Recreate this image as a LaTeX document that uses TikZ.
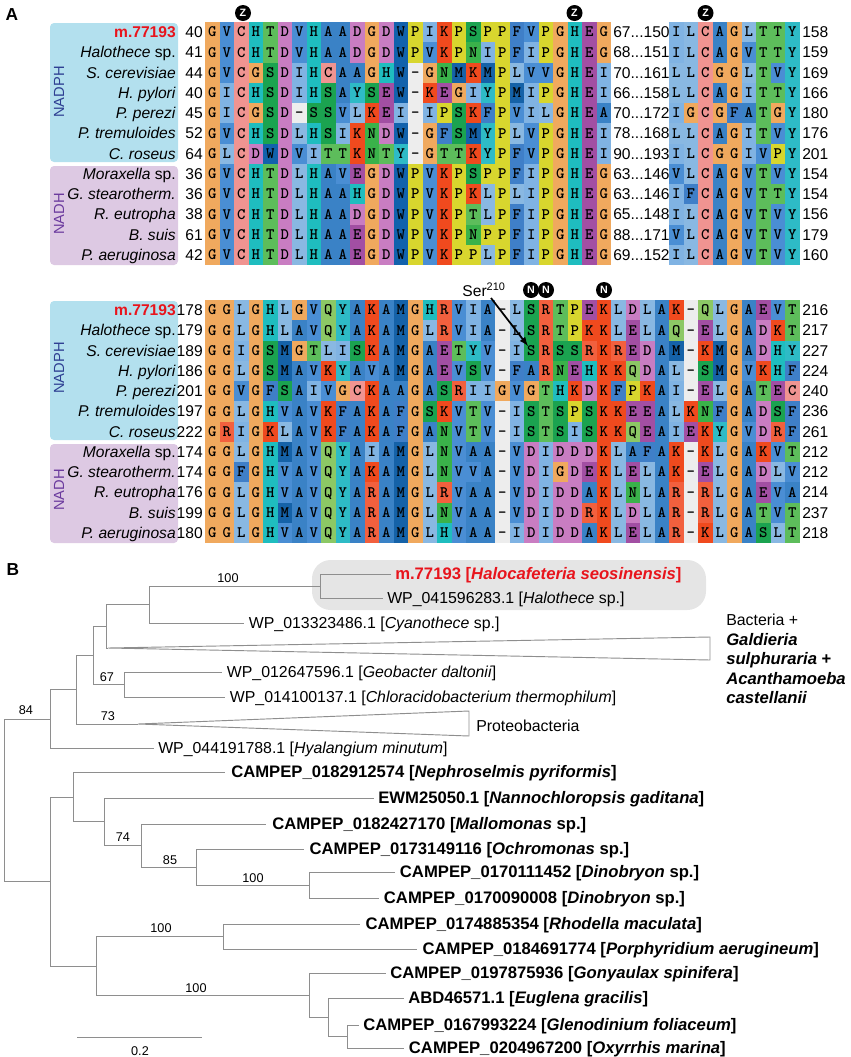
\documentclass[tikz,border=0pt]{standalone}
\usepackage{fontspec}
\setmainfont{Liberation Sans}
\newfontfamily\resfont{lmmonolt10-bold.otf}
\usetikzlibrary{positioning, arrows}

\definecolor{resG}{HTML}{F0A95E}
\definecolor{resC}{HTML}{F09491}
\definecolor{resA}{HTML}{3A82C6}
\definecolor{resV}{HTML}{4A8ED4}
\definecolor{resI}{HTML}{80B3E3}
\definecolor{resL}{HTML}{89B8E2}
\definecolor{resM}{HTML}{1562A8}
\definecolor{resF}{HTML}{3F7FC8}
\definecolor{resW}{HTML}{1262AC}
\definecolor{resH}{HTML}{1FBDBF}
\definecolor{resY}{HTML}{2EBBC6}
\definecolor{resT}{HTML}{5DBD5B}
\definecolor{resS}{HTML}{1BA350}
\definecolor{resN}{HTML}{3AB24A}
\definecolor{resQ}{HTML}{8CC865}
\definecolor{resD}{HTML}{C97DC2}
\definecolor{resE}{HTML}{A24FA3}
\definecolor{resK}{HTML}{F04A1E}
\definecolor{resR}{HTML}{F2603E}
\definecolor{resP}{HTML}{D8D62E}
\definecolor{resgap}{HTML}{EDEDED}
\definecolor{nadphbg}{HTML}{B3E0EE}
\definecolor{nadhbg}{HTML}{DDC9E3}
\definecolor{nadphtx}{HTML}{2E3F92}
\definecolor{nadhtx}{HTML}{6B3A9E}
\definecolor{mred}{HTML}{E8141C}
\definecolor{treegray}{HTML}{8E8E8E}
\definecolor{hlgray}{HTML}{E5E5E5}

% one row of coloured residues: left x, top y, letters
\newcount\rescol
\newcommand\resrow[3]{\def\resx{#1}\def\resy{#2}\global\rescol=0\relax\expandafter\resloop#3\relax}
\def\resloop#1{\ifx#1\relax\else\resbox{#1}\expandafter\resloop\fi}
\newcommand\resbox[1]{%
  \if#1-\def\rescolr{resgap}\else\def\rescolr{res#1}\fi
  \fill[fill=\rescolr] ({\resx+14.5*\the\rescol},{\resy}) rectangle ++(14.5,20.25);
  \node[reslet] at ({\resx+14.5*\the\rescol+7.25},{\resy+10.125}) {#1};
  \global\advance\rescol by 1\relax}
\newcommand\posdots{...}

\begin{document}
\begin{tikzpicture}[x=0.75pt, y=-0.75pt]
    \tikzstyle{reslet} = [inner sep=0pt, text height=7.2pt, text depth=0pt, font=\resfont\fontsize{12}{12}\selectfont]
    \tikzstyle{spname} = [anchor=east, inner sep=0pt, text height=8.4pt, text depth=0pt, font=\fontsize{11.7}{12}\selectfont]
    \tikzstyle{posnum} = [inner sep=0pt, text height=8.4pt, text depth=0pt, font=\fontsize{11.7}{12}\selectfont]
    \tikzstyle{grpbox} = [rounded corners=3pt]
    \tikzstyle{grplab} = [rotate=90, inner sep=0pt, font=\fontsize{11}{11}\selectfont]
    \tikzstyle{site} = [circle, fill=black, text=white, inner sep=0pt, minimum size=12pt, font=\fontsize{8}{8}\selectfont\bfseries]
    \tikzstyle{panel} = [inner sep=0pt, font=\fontsize{13}{13}\selectfont\bfseries]
    \tikzstyle{serarrow} = [->, >=latex, line width=1.3pt]
    \tikzstyle{branch} = [draw=treegray, line width=0.7pt]
    \tikzstyle{clade} = [draw=treegray, line width=0.7pt, fill=white]
    \tikzstyle{leaf} = [anchor=west, inner sep=0pt, text height=8.5pt, text depth=0pt, font=\fontsize{11.9}{12}\selectfont]
    \tikzstyle{bleaf} = [leaf, text height=8.9pt, font=\fontsize{12.5}{12}\selectfont\bfseries]
    \tikzstyle{boot} = [inner sep=0pt, font=\fontsize{9.5}{10}\selectfont]

    \useasboundingbox (0,0) rectangle (850,1057);

    \node[panel] (A) at (12,15) {A};
    \node[panel] (B) at (13,570) {B};

    % group boxes
    \fill[grpbox, fill=nadphbg] (50,23) rectangle (178,162);
    \fill[grpbox, fill=nadhbg] (50,166) rectangle (178,265);
    \fill[grpbox, fill=nadphbg] (50,301) rectangle (178,440);
    \fill[grpbox, fill=nadhbg] (50,444) rectangle (178,543);
    \node[grplab, text=nadphtx] (gA1) at (59,92) {NADPH};
    \node[grplab, text=nadhtx] (gA2) at (59,214) {NADH};
    \node[grplab, text=nadphtx] (gB1) at (59,368) {NADPH};
    \node[grplab, text=nadhtx] (gB2) at (59,490) {NADH};

    % upper alignment
    \foreach \s [count=\i from 0] in {GVCHTDVHAADGDWPIKPSPPFVPGHEG, GVCHTDVHAADGDWPVKPNIPFIPGHEG,
        GVCGSDIHCAAGHW-GNMKMPLVVGHEI, GICHSDIHSAYSEW-KEGIYPMIPGHEI, GICGSD-SSVLKEI-IPSKFPVILGHEA,
        GVCHSDLHSIKNDW-GFSMYPLVPGHEI, GLCDWDVITTKNTY-GTTKYPFVPGHEI, GVCHTDLHAVEGDWPVKPSPPFIPGHEG,
        GVCHTDLHAAHGDWPVKPKLPLIPGHEG, GVCHTDLHAADGDWPVKPTLPFIPGHEG, GVCHTDLHAAEGDWPVKPNPPFIPGHEG,
        GVCHTDLHAAEGDWPVKPPLPFIPGHEG}
        {\resrow{205}{22+20.25*\i}{\s}}
    \foreach \s [count=\i from 0] in {ILCAGLTTY, ILCAGVTTY, LLCGGLTVY, LLCAGITTY, IGCGFATGY, LLCAGITVY,
        ILCGGIVPY, VLCAGVTVY, IFCAGVTTY, ILCAGVTVY, VLCAGVTVY, ILCAGVTVY}
        {\resrow{669}{22+20.25*\i}{\s}}

    % lower alignment
    \foreach \s [count=\i from 0] in {GGLGHLGVQYAKAMGHRVIA-LSRTPEKLDLAK-QLGAEVT,
        GGLGHLAVQYAKAMGLRVIA-LSRTPKKLELAQ-ELGADKT, GGIGSMGTLISKAMGAETYV-ISRSSRKREDAM-KMGADHY,
        GGLGSMAVKYAVAMGAEVSV-FARNEHKKQDAL-SMGVKHF, GGVGFSAIVGCKAAGASRIIGVGTHKDKFPKAI-ELGATEC,
        GGLGHVAVKFAKAFGSKVTV-ISTSPSKKEEALKNFGADSF, GRIGKLAVKFAKAFGANVTV-ISTSISKKQEAIEKYGVDRF,
        GGLGHMAVQYAIAMGLNVAA-VDIDDDKLAFAK-KLGAKVT, GGFGHVAVQYAKAMGLNVVA-VDIGDEKLELAK-ELGADLV,
        GGLGHVAVQYARAMGLRVAA-VDIDDAKLNLAR-RLGAEVA, GGLGHMAVQYARAMGLNVAA-VDIDDRKLDLAR-RLGATVT,
        GGLGHVAVQYARAMGLHVAA-IDIDDAKLELAR-KLGASLT}
        {\resrow{205}{300+20.25*\i}{\s}}

    % names and positions
    \foreach \nm/\na/\nb/\nc/\nd/\ne [count=\i from 0] in {
        {\textcolor{mred}{\bfseries m.77193}}/40/67\posdots150/158/178/216,
        {\textit{Halothece} sp.}/41/68\posdots151/159/179/217,
        {\textit{S. cerevisiae}}/44/70\posdots161/169/189/227,
        {\textit{H. pylori}}/40/66\posdots158/166/186/224,
        {\textit{P. perezi}}/45/70\posdots172/180/201/240,
        {\textit{P. tremuloides}}/52/78\posdots168/176/197/236,
        {\textit{C. roseus}}/64/90\posdots193/201/222/261,
        {\textit{Moraxella} sp.}/36/63\posdots146/154/174/212,
        {\textit{G. stearotherm.}}/36/63\posdots146/154/174/212,
        {\textit{R. eutropha}}/38/65\posdots148/156/176/214,
        {\textit{B. suis}}/61/88\posdots171/179/199/237,
        {\textit{P. aeruginosa}}/42/69\posdots152/160/180/218}
    {
        \node[spname] (tn\i) at (176,32.125+20.25*\i) {\nm};
        \node[posnum, anchor=east] (ta\i) at (203,32.125+20.25*\i) {\na};
        \node[posnum, anchor=west] (tb\i) at (613,32.125+20.25*\i) {\nb};
        \node[posnum, anchor=west] (tc\i) at (802,32.125+20.25*\i) {\nc};
        \node[spname] (bn\i) at (176,310.125+20.25*\i) {\nm};
        \node[posnum, anchor=east] (ba\i) at (203,310.125+20.25*\i) {\nd};
        \node[posnum, anchor=west] (be\i) at (802,310.125+20.25*\i) {\ne};
    }

    % marked sites
    \node[site] (z1) at (243,13) {Z};
    \node[site] (z2) at (574.5,13) {Z};
    \node[site] (z3) at (705.5,13) {Z};
    \node[site] (n1) at (531,290) {N};
    \node[site] (n2) at (546,290) {N};
    \node[site] (n3) at (604,290) {N};

    \node[posnum] (ser) at (484,291) {Ser\textsuperscript{210}};
    \coordinate (sertail) at (491,298);
    \coordinate (sertip) at (528,346);
    \draw[serarrow] (sertail) -- (sertip);

    % tree
    \fill[hlgray, rounded corners=14pt] (312,560) rectangle (706,610);

    \coordinate (lM77) at (391,574);
    \coordinate (lHalo) at (383,598);
    \coordinate (nHal) at (320,586);
    \coordinate (lCyan) at (244,623);
    \coordinate (nCya) at (149,604.5);
    \coordinate (tBac) at (108,648);
    \coordinate (nBac) at (106,626);
    \coordinate (lGeo) at (222,672);
    \coordinate (lChl) at (225,697);
    \coordinate (nGeo) at (124,684.5);
    \coordinate (nB93) at (93,655);
    \coordinate (tPro) at (138,724);
    \coordinate (nB76) at (76,689.5);
    \coordinate (lHya) at (154,748);
    \coordinate (nB50) at (50,719);

    \coordinate (lNep) at (225,772);
    \coordinate (lNan) at (374,798);
    \coordinate (lMal) at (266,824);
    \coordinate (lOch) at (304,849);
    \coordinate (lDin1) at (395,872);
    \coordinate (lDin2) at (379,898);
    \coordinate (nE309) at (309,885);
    \coordinate (nE196) at (196,867);
    \coordinate (nE141) at (141,845.5);
    \coordinate (nE104) at (104,821.5);
    \coordinate (nE73) at (73,797);
    \coordinate (lRho) at (360,924);
    \coordinate (lPor) at (417,949);
    \coordinate (nE223) at (223,936.5);
    \coordinate (lGon) at (386,973);
    \coordinate (lAbd) at (404,998);
    \coordinate (lGle) at (359,1025);
    \coordinate (lOxy) at (404,1048);
    \coordinate (nE347) at (347,1036.5);
    \coordinate (nE328) at (328,1017.5);
    \coordinate (nE309b) at (309,995.5);
    \coordinate (nE96) at (96,966);
    \coordinate (nE50) at (50,881.5);
    \coordinate (root) at (4,800);

    \foreach \p/\c in {nHal/lM77, nHal/lHalo, nCya/nHal, nCya/lCyan, nBac/nCya, nBac/tBac,
        nGeo/lGeo, nGeo/lChl, nB93/nBac, nB93/nGeo, nB76/nB93, nB76/tPro, nB50/nB76, nB50/lHya,
        root/nB50, root/nE50, nE50/nE73, nE50/nE96, nE73/lNep, nE73/nE104, nE104/lNan, nE104/nE141,
        nE141/lMal, nE141/nE196, nE196/lOch, nE196/nE309, nE309/lDin1, nE309/lDin2,
        nE96/nE223, nE96/nE309b, nE223/lRho, nE223/lPor, nE309b/lGon, nE309b/nE328,
        nE328/lAbd, nE328/nE347, nE347/lGle, nE347/lOxy}
        \draw[branch] (\p) |- (\c);

    \coordinate (tBac1) at (710,637);
    \coordinate (tBac2) at (710,660);
    \draw[clade] (tBac) -- (tBac1) -- (tBac2) -- cycle;
    \coordinate (tPro1) at (469,711);
    \coordinate (tPro2) at (469,736);
    \draw[clade] (tPro) -- (tPro1) -- (tPro2) -- cycle;

    \node[bleaf, text=mred, right=3pt of lM77] (tM77) {m.77193 [\textit{Halocafeteria seosinensis}]};
    \node[leaf, right=3pt of lHalo] (tHalo) {WP\_041596283.1 [\textit{Halothece} sp.]};
    \node[leaf, right=3.5pt of lCyan] (tCyan) {WP\_013323486.1 [\textit{Cyanothece} sp.]};
    \node[leaf, right=3.5pt of lGeo] (tGeo) {WP\_012647596.1 [\textit{Geobacter daltonii}]};
    \node[leaf, right=3.5pt of lChl] (tChl) {WP\_014100137.1 [\textit{Chloracidobacterium thermophilum}]};
    \node[leaf, right=3pt of lHya] (tHya) {WP\_044191788.1 [\textit{Hyalangium minutum}]};
    \node[leaf] (tProt) at (476,726) {Proteobacteria};
    \node[leaf] (bac1) at (726,620) {Bacteria +};
    \node[bleaf] (bac2) at (726,639.5) {\textit{Galdieria}};
    \node[bleaf] (bac3) at (726,659) {\textit{sulphuraria} +};
    \node[bleaf] (bac4) at (726,678.5) {\textit{Acanthamoeba}};
    \node[bleaf] (bac5) at (726,698) {\textit{castellanii}};

    \node[bleaf, right=4.5pt of lNep] (tNep) {CAMPEP\_0182912574 [\textit{Nephroselmis pyriformis}]};
    \node[bleaf, right=3pt of lNan] (tNan) {EWM25050.1 [\textit{Nannochloropsis gaditana}]};
    \node[bleaf, right=4.5pt of lMal] (tMal) {CAMPEP\_0182427170 [\textit{Mallomonas} sp.]};
    \node[bleaf, right=4pt of lOch] (tOch) {CAMPEP\_0173149116 [\textit{Ochromonas} sp.]};
    \node[bleaf, right=3.5pt of lDin1] (tDin1) {CAMPEP\_0170111452 [\textit{Dinobryon} sp.]};
    \node[bleaf, right=3.5pt of lDin2] (tDin2) {CAMPEP\_0170090008 [\textit{Dinobryon} sp.]};
    \node[bleaf, right=4pt of lRho] (tRho) {CAMPEP\_0174885354 [\textit{Rhodella maculata}]};
    \node[bleaf, right=4pt of lPor] (tPor) {CAMPEP\_0184691774 [\textit{Porphyridium aerugineum}]};
    \node[bleaf, right=3pt of lGon] (tGon) {CAMPEP\_0197875936 [\textit{Gonyaulax spinifera}]};
    \node[bleaf, right=3pt of lAbd] (tAbd) {ABD46571.1 [\textit{Euglena gracilis}]};
    \node[bleaf, right=3pt of lGle] (tGle) {CAMPEP\_0167993224 [\textit{Glenodinium foliaceum}]};
    \node[bleaf, right=3.5pt of lOxy] (tOxy) {CAMPEP\_0204967200 [\textit{Oxyrrhis marina}]};

    % bootstrap values
    \node[boot] (b100a) at (228,578) {100};
    \node[boot] (b67) at (107,677) {67};
    \node[boot] (b73) at (108,716) {73};
    \node[boot] (b84) at (26,710) {84};
    \node[boot] (b74) at (123,837) {74};
    \node[boot] (b85) at (170,860) {85};
    \node[boot] (b100b) at (253,878) {100};
    \node[boot] (b100c) at (161,928) {100};
    \node[boot] (b100d) at (196,988) {100};

    \coordinate (sbL) at (77,1037);
    \coordinate (sbR) at (202,1037);
    \draw[branch] (sbL) -- (sbR);
    \node[boot] (sbT) at (140,1051) {0.2};

\end{tikzpicture}
\end{document}
